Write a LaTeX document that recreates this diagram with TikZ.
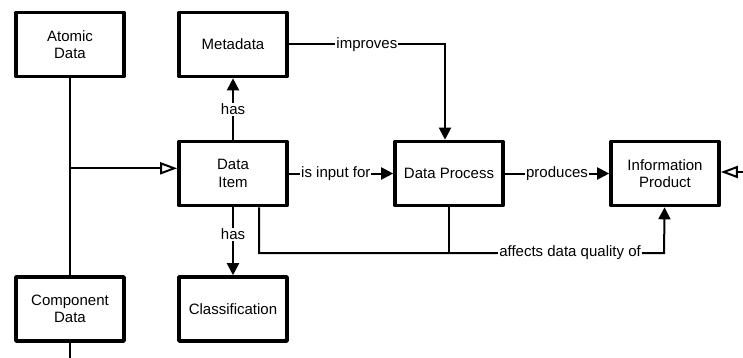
\documentclass[tikz,border=0pt]{standalone}
\usepackage{fontspec}
\setmainfont{Liberation Sans}
\usetikzlibrary{arrows.meta}
\begin{document}
\begin{tikzpicture}
    [x=1pt,y=-1pt,
    font=\fontsize{15}{17.5}\selectfont,
    box/.style={shape=rectangle,draw=black,line width=3.6pt,line join=round,minimum width=108pt,minimum height=64pt,align=center},
    lbl/.style={fill=white,inner sep=1pt},
    arc/.style={-{Triangle[length=12pt,width=12pt]},line width=2pt},
    gen/.style={-{Triangle[open,length=17pt,width=12pt]},line width=2pt},
    edge/.style={line width=2pt}]

    \useasboundingbox (0,0) rectangle (743,358);

    \node (atomic) [box] at (70,44.5) {Atomic\\Data};
    \node (meta) [box] at (233,44.5) {Metadata};
    \node (item) [box] at (233,173.5) {Data\\Item};
    \node (proc) [box] at (449,173.5) {Data Process};
    \node (info) [box] at (665,173.5) {Information\\Product};
    \node (cls) [box] at (233,309) {Classification};
    \node (comp) [box] at (70,309) {Component\\Data};

    \coordinate (split) at (70,168.3);
    \coordinate (down) at (70,370);
    \coordinate (right) at (760,172);
    \coordinate (aff) at (664,253);

    \draw [edge] (atomic) -- (comp);
    \draw [edge] (comp) -- (down);
    \draw [gen] (split) -- (split -| item.west);
    \draw [gen] (right) -- (right -| info.east);

    \draw [arc] (item) to node [lbl,pos=0.49] {has} (meta);
    \draw [arc] (item) to node [lbl,pos=0.4] {has} (cls);
    \draw [arc] (item) to node [lbl,pos=0.45] {is input for} (proc);
    \draw [arc] (proc) to node [lbl] {produces} (info);
    \draw [arc] (meta) -| node [lbl,pos=0.25] {improves} ([xshift=-4pt]proc.north);
    \draw [arc] ([xshift=26pt]item.south) |- node [lbl,pos=0.884] {affects data quality of} (aff) -- (info);
    \draw [edge] (proc) -- (proc |- aff);

  \end{tikzpicture}
\end{document}
